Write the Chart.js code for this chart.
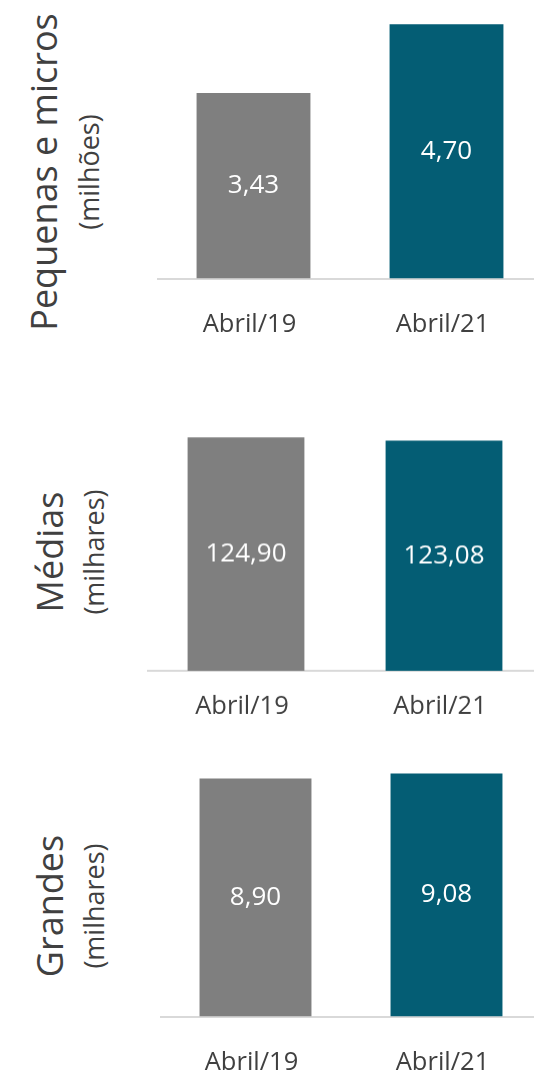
<!DOCTYPE html>
<html lang="pt">
<head>
<meta charset="utf-8">
<script src="https://cdn.jsdelivr.net/npm/chart.js@4.4.1/dist/chart.umd.min.js"></script>
<style>
  html, body { margin: 0; padding: 0; background: #fff; }
  body { width: 534px; height: 1074px; position: relative; overflow: hidden; font-family: "Open Sans", sans-serif; color: #404040; }
  .panel { position: absolute; }
  .side { position: absolute; white-space: nowrap; line-height: 1; transform: translate(-50%, -50%) rotate(-90deg); color: #404040; }
</style>
</head>
<body>
<script>
// data
const categories = ['Abril/19', 'Abril/21'];
const pequenasValues = [3.43, 4.70];
const mediasValues = [124.90, 123.08];
const grandesValues = [8.90, 9.08];
const barColors = ['#7f7f7f', '#045d74'];

const panelTitles = ['Pequenas e micros', 'Médias', 'Grandes'];
const panelUnits = ['(milhões)', '(milhares)', '(milhares)'];
const panelMax = [5, 140, 10];

// layout of each panel (page pixels)
const layout = [
  { left: 156.5, width: 386, top: 7.5,  base: 278,  pad: 31, barPct: 0.59,
    title: { x: 44, y: 172, size: 36 }, unit: { x: 88, y: 172, size: 27 } },
  { left: 146.5, width: 396, top: 409,  base: 670,  pad: 20, barPct: 0.59,
    title: { x: 50, y: 552, size: 36 }, unit: { x: 93, y: 552, size: 27 } },
  { left: 159.5, width: 382, top: 748.5, base: 1016, pad: 31, barPct: 0.586,
    title: { x: 50, y: 906, size: 36 }, unit: { x: 93, y: 906, size: 27 } },
];
const seriesList = [pequenasValues, mediasValues, grandesValues];

const TICK_FONT = 25.5;
const VALUE_FONT = 26;
const LINE_H = 1.2;

// writes the value in the middle of each bar, with comma decimals
const barValueLabels = {
  id: 'barValueLabels',
  afterDatasetsDraw(chart) {
    const ctx = chart.ctx;
    const ds = chart.data.datasets[0];
    chart.getDatasetMeta(0).data.forEach((bar, i) => {
      const txt = ds.data[i].toFixed(2).replace('.', ',');
      ctx.save();
      ctx.fillStyle = '#ffffff';
      ctx.font = `${VALUE_FONT}px "Open Sans"`;
      ctx.textAlign = 'center';
      ctx.textBaseline = 'middle';
      ctx.fillText(txt, bar.x, (bar.y + bar.base) / 2);
      ctx.restore();
    });
  }
};

layout.forEach((L, p) => {
  const h = (L.base - L.top) + TICK_FONT * LINE_H + L.pad * 2;
  const div = document.createElement('div');
  div.className = 'panel';
  div.style.cssText = `left:${L.left}px;top:${L.top}px;width:${L.width}px;height:${h}px;`;
  const canvas = document.createElement('canvas');
  div.appendChild(canvas);
  document.body.appendChild(div);

  const t = document.createElement('div');
  t.className = 'side';
  t.textContent = panelTitles[p];
  t.style.cssText = `left:${L.title.x}px;top:${L.title.y}px;font-size:${L.title.size}px;`;
  document.body.appendChild(t);

  const u = document.createElement('div');
  u.className = 'side';
  u.textContent = panelUnits[p];
  u.style.cssText = `left:${L.unit.x}px;top:${L.unit.y}px;font-size:${L.unit.size}px;`;
  document.body.appendChild(u);

  new Chart(canvas, {
    type: 'bar',
    data: {
      labels: categories,
      datasets: [{
        data: seriesList[p],
        backgroundColor: barColors,
        borderWidth: 0,
        barPercentage: 1,
        categoryPercentage: L.barPct
      }]
    },
    options: {
      responsive: true,
      maintainAspectRatio: false,
      animation: false,
      layout: { padding: 0 },
      plugins: { legend: { display: false }, tooltip: { enabled: false } },
      scales: {
        y: { display: false, min: 0, max: panelMax[p] },
        x: {
          grid: { display: false, drawTicks: false },
          border: { display: true, color: '#d9d9d9', width: 2 },
          ticks: {
            color: '#404040',
            padding: L.pad,
            labelOffset: -4,
            font: { family: 'Open Sans', size: TICK_FONT, lineHeight: LINE_H }
          }
        }
      }
    },
    plugins: [barValueLabels]
  });
});
</script>
</body>
</html>
